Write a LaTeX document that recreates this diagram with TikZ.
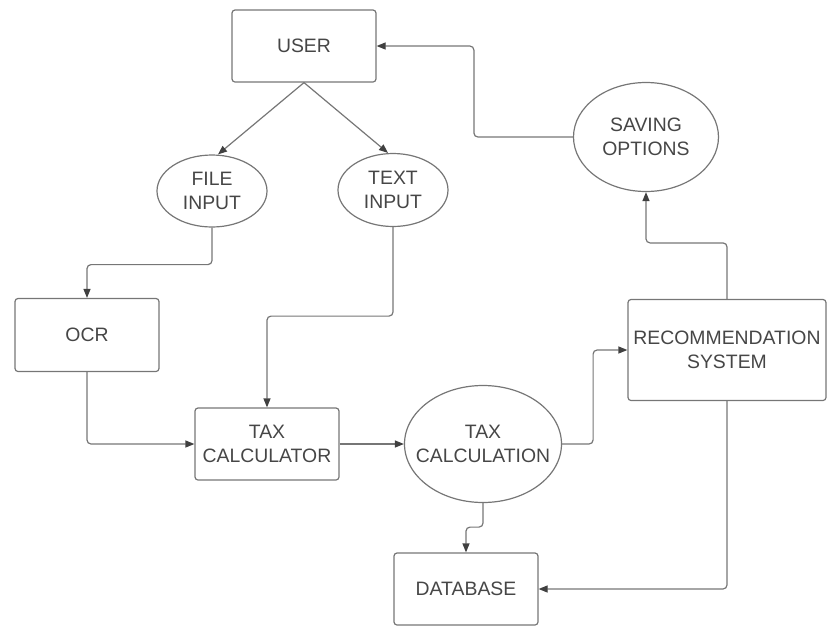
\documentclass[tikz,border=0pt]{standalone}
\usepackage{fontspec}
\setmainfont{Liberation Sans}
\usetikzlibrary{arrows.meta,shapes.geometric,positioning}
\definecolor{linegray}{RGB}{118,118,118}
\definecolor{textgray}{RGB}{70,70,70}

\begin{document}
\begin{tikzpicture}[x=0.5pt,y=-0.5pt,
		every node/.style={font=\fontsize{9.7}{11.7}\selectfont,text=textgray,align=center},
		box/.style={draw=linegray,line width=0.6pt,rounded corners=1.5pt,inner sep=1pt,
			minimum width=72pt,minimum height=36pt},
		ellip/.style={draw=linegray,line width=0.6pt,ellipse,inner sep=0pt},
		conn/.style={draw=linegray,line width=0.6pt,rounded corners=2pt,
			-{Triangle[length=4.5pt,width=3.5pt,color=black!75]}}]
	\useasboundingbox (0,0) rectangle (827,628);

	\node[box] (user) at (304,46) {USER};
	\node[ellip,minimum width=55pt,minimum height=36pt] (fin) at (212,191) {FILE\\INPUT};
	\node[ellip,minimum width=55pt,minimum height=36.5pt] (tin) at (393,190) {TEXT\\INPUT};
	\node[ellip,minimum width=72.5pt,minimum height=54.5pt] (save) at (646,137) {SAVING\\OPTIONS};
	\node[box,minimum height=36.5pt] (ocr) at (87,335) {OCR};
	\node[box] (tcalc) at (267,444) {TAX\\CALCULATOR};
	\node[ellip,inner xsep=-8pt,minimum width=78.5pt,minimum height=58.5pt] (calc) at (483,444) {TAX\\CALCULATION};
	\node[box,minimum width=99pt,minimum height=50.5pt] (rec) at (727,350) {RECOMMENDATION\\SYSTEM};
	\node[box] (db) at (466,589) {DATABASE};

	% user inputs
	\draw[conn] (user.south) -- ([xshift=3pt]fin.north);
	\draw[conn] (user.south) -- ([xshift=-2.5pt]tin.north);
	\draw[conn] (fin.south) -- ++(0,37) -| (ocr.north);
	\draw[conn] (tin.south) -- ++(0,89) -| (tcalc.north);
	\draw[conn] (ocr.south) |- (tcalc.west);

	% calculation
	\draw[conn] (tcalc.east) -- (calc.west);
	\draw[conn] (calc.east) -- ++(31,0) |- (rec.west);
	\draw[conn] (calc.south) -- ++(0,24) -| (db.north);
	\draw[conn] (rec.south) |- (db.east);

	% back to the user
	\draw[conn] (rec.north) -- ++(0,-56) -| (save.south);
	\draw[conn] (save.west) -- ++(-99,0) |- (user.east);
\end{tikzpicture}
\end{document}
